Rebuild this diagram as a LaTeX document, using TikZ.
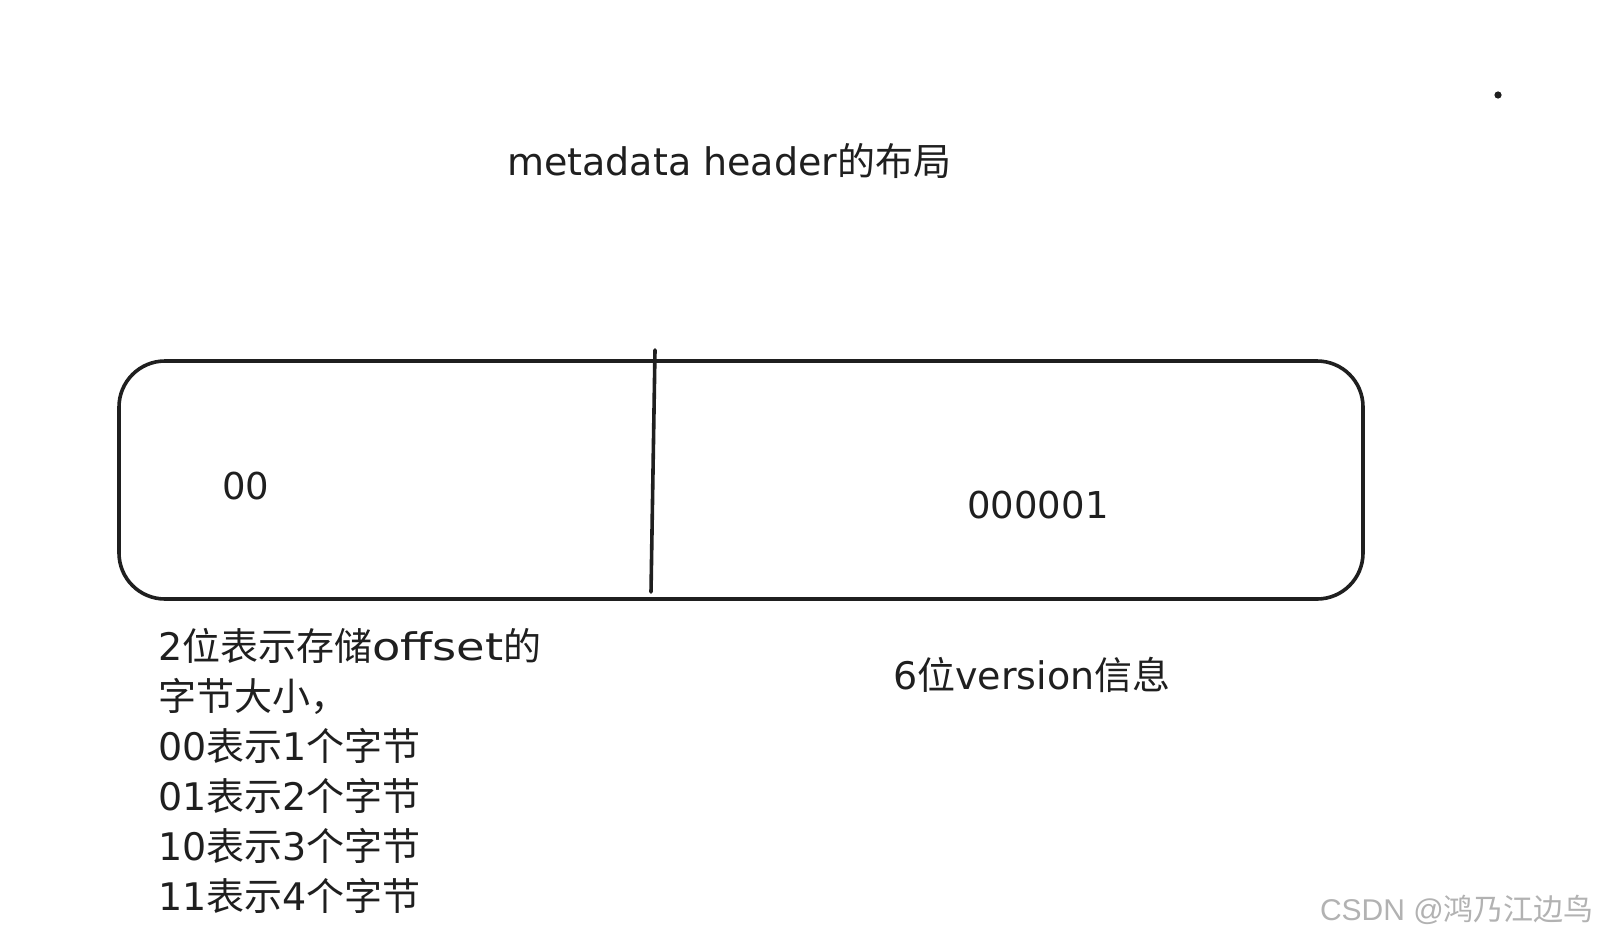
\documentclass[tikz,border=0pt]{standalone}
\usepackage{fontspec}
\usepackage{graphicx}
\setmainfont{DejaVu Sans}
\newfontfamily\zhfont{Noto Sans CJK SC}
\newfontfamily\latfont{DejaVu Sans}
\newfontfamily\arialfont{Liberation Sans}
\newcommand{\zh}[1]{{\zhfont #1}}
\newcommand{\lat}[1]{{\latfont #1}}
\begin{document}
\begin{tikzpicture}[x=1pt,y=-1pt,
  txt/.style={inner sep=0pt, font=\fontsize{38}{44}\selectfont, text=black!88},
  stroke/.style={line width=3.6pt, draw=black!88, line cap=round, line join=round}]
\useasboundingbox (0,0) rectangle (1600,940);
\fill[white] (0,0) rectangle (1600,940);
% title
\node[txt, anchor=west] (title) at (507,161) {\lat{metadata header}\zh{的布局}};
% dot
\fill[black!88] (1498,95) circle (3.6pt);
% box
\draw[stroke, rounded corners=46pt] (119,361) rectangle (1363,599);
\coordinate (divtop) at (655,350);
\coordinate (divbot) at (651,592);
\draw[stroke] (divtop) -- (divbot);
% values
\node[txt, font=\fontsize{37}{44}\selectfont] (v1) at (246,486) {00};
\node[txt, font=\fontsize{37}{44}\selectfont] (v2) at (1038,505) {000001};
% descriptions
\node[txt, anchor=west] (d2) at (893,675) {6\zh{位}version\zh{信息}};
\node[txt, anchor=base west] (l1) at (158,660) {2\zh{位表示存储}\scalebox{1.22}[1]{offset}\zh{的}};
\node[txt, anchor=base west] (l2) at (158,710) {\zh{字节大小，}};
\node[txt, anchor=base west] (l3) at (158,760) {00\zh{表示}1\zh{个字节}};
\node[txt, anchor=base west] (l4) at (158,810) {01\zh{表示}2\zh{个字节}};
\node[txt, anchor=base west] (l5) at (158,860) {10\zh{表示}3\zh{个字节}};
\node[txt, anchor=base west] (l6) at (158,910) {11\zh{表示}4\zh{个字节}};
% CSDN watermark
\node[inner sep=0pt, anchor=east, font=\fontsize{30}{32}\selectfont, text=black!30] (csdn) at (1594,910) {\arialfont CSDN @\zh{鸿乃江边鸟}};
\end{tikzpicture}
\end{document}
